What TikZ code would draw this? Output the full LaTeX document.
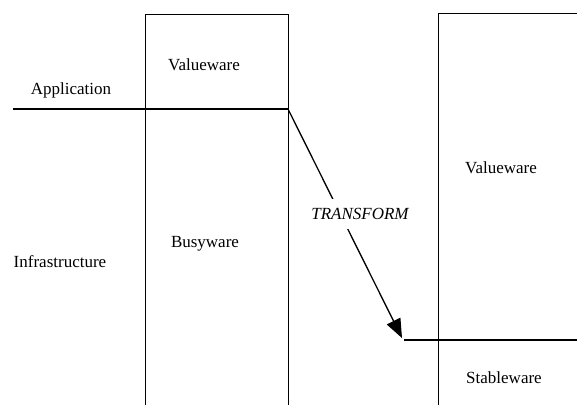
\documentclass[tikz,border=0pt]{standalone}
\usepackage{fontspec}
\setmainfont{Liberation Serif}
\usetikzlibrary{arrows.meta}
\begin{document}
\begin{tikzpicture}[x=1pt,y=-1pt,
  lbl/.style={font=\fontsize{17}{20}\selectfont, anchor=base, inner sep=0pt},
  boxline/.style={line width=1pt},
  layerline/.style={line width=2pt},
  xform/.style={line width=1.3pt, -{Triangle[length=19pt,width=15pt]}}]
\useasboundingbox (0,0) rectangle (577,405);
% left box
\draw[boxline] (145,405) -- (145,14) -- (288,14) -- (288,405);
% right box
\draw[boxline] (438,405) -- (438,13) -- (580,13);
% layer lines
\draw[layerline] (13,109) -- (288,109);
\draw[layerline] (404,340) -- (580,340);
% labels
\node[lbl] (app) at (71,94) {Application};
\node[lbl] (infra) at (60,267) {Infrastructure};
\node[lbl] (vl) at (204,70) {Valueware};
\node[lbl] (busy) at (205,247) {Busyware};
\node[lbl] (vr) at (501,173) {Valueware};
\node[lbl] (stable) at (504,383) {Stableware};
% transform arrow
\coordinate (src) at (288,109);
\coordinate (dst) at (402,338);
\draw[xform] (src) -- (dst);
\node[lbl, fill=white, inner xsep=2pt, inner ysep=9pt, anchor=center, font=\fontsize{17}{20}\selectfont\itshape] (tf) at (360,214) {TRANSFORM};
\end{tikzpicture}
\end{document}
